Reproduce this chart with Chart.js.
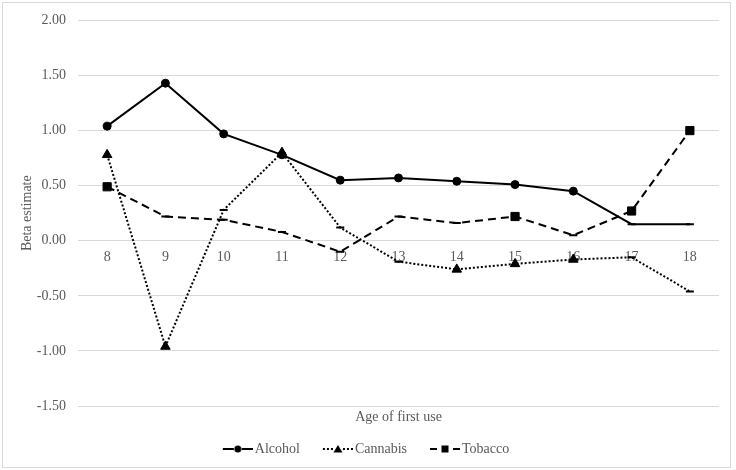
<!DOCTYPE html>
<html>
<head>
<meta charset="utf-8">
<script src="https://cdn.jsdelivr.net/npm/chart.js@4.4.1/dist/chart.umd.min.js"></script>
<style>
  body { margin: 0; background: #fff; }
  #wrap { position: relative; width: 736px; height: 470px; }
  #frame { position: absolute; left: 2px; top: 2px; width: 729px; height: 466px; box-sizing: border-box; border: 1px solid #d9d9d9; pointer-events: none; }
</style>
</head>
<body>
<div id="wrap">
  <canvas id="chart" width="736" height="470"></canvas>
  <div id="frame"></div>
</div>
<script>
const ages = ['8', '9', '10', '11', '12', '13', '14', '15', '16', '17', '18'];
const alcohol = [1.04, 1.43, 0.97, 0.78, 0.55, 0.57, 0.54, 0.51, 0.45, 0.15, 0.15];
const cannabis = [0.78, -0.96, 0.28, 0.80, 0.12, -0.19, -0.26, -0.21, -0.17, -0.15, -0.46];
const tobacco = [0.49, 0.22, 0.19, 0.08, -0.10, 0.22, 0.16, 0.22, 0.05, 0.27, 1.00];
// 1 = full marker, 0 = dash marker
const alcoholMarked = [1, 1, 1, 1, 1, 1, 1, 1, 1, 0, 0];
const cannabisMarked = [1, 1, 0, 1, 0, 0, 1, 1, 1, 0, 0];
const tobaccoMarked = [1, 0, 0, 0, 0, 0, 0, 1, 0, 1, 1];
const yTicks = [-1.5, -1.0, -0.5, 0, 0.5, 1.0, 1.5, 2.0];

const textColor = '#595959';
const gridColor = '#d9d9d9';
const fontFamily = "'Liberation Serif', 'Times New Roman', serif";

const markerSize = { circle: 4, triangle: 5.5, rect: 5.8, line: 4 };

function seriesStyle(marked, shape) {
  return {
    pointStyle: marked.map(m => m ? shape : 'line'),
    pointRadius: marked.map(m => m ? markerSize[shape] : markerSize.line),
    pointBorderWidth: marked.map(m => m ? 1 : 2)
  };
}

// little legend sample: line with marker in the middle
function legendSample(dash, shape) {
  const c = document.createElement('canvas');
  c.width = 48; c.height = 12;
  const g = c.getContext('2d');
  g.strokeStyle = '#000'; g.fillStyle = '#000'; g.lineWidth = 2;
  g.setLineDash(dash);
  g.beginPath(); g.moveTo(18, 6); g.lineTo(48, 6); g.stroke();
  g.setLineDash([]);
  g.clearRect(29, 0, 8, 12);
  g.beginPath();
  if (shape === 'circle') g.arc(33, 6, 3.5, 0, Math.PI * 2);
  if (shape === 'triangle') { g.moveTo(33, 2); g.lineTo(37.5, 9.5); g.lineTo(28.5, 9.5); g.closePath(); }
  if (shape === 'rect') g.rect(29.5, 2.5, 7, 7);
  g.fill();
  return c;
}

const datasets = [
  Object.assign({
    label: 'Alcohol', data: alcohol, order: 1,
    borderColor: '#000', backgroundColor: '#000', borderWidth: 2,
    pointBackgroundColor: '#000', pointBorderColor: '#000'
  }, seriesStyle(alcoholMarked, 'circle')),
  Object.assign({
    label: 'Cannabis', data: cannabis, order: 0,
    borderColor: '#000', backgroundColor: '#000', borderWidth: 2, borderDash: [2, 2],
    pointBackgroundColor: '#000', pointBorderColor: '#000'
  }, seriesStyle(cannabisMarked, 'triangle')),
  Object.assign({
    label: 'Tobacco', data: tobacco, order: 2,
    borderColor: '#000', backgroundColor: '#000', borderWidth: 2, borderDash: [8, 5],
    pointBackgroundColor: '#000', pointBorderColor: '#000'
  }, seriesStyle(tobaccoMarked, 'rect'))
];

const samples = [legendSample([], 'circle'), legendSample([2, 2], 'triangle'), legendSample([7, 16], 'rect')];

new Chart(document.getElementById('chart'), {
  type: 'line',
  data: { labels: ages, datasets: datasets },
  options: {
    responsive: false,
    animation: false,
    layout: { padding: { top: 16, right: 17, bottom: 4, left: 0 } },
    elements: { line: { tension: 0 } },
    scales: {
      x: {
        type: 'category',
        position: { y: 0 },
        offset: true,
        grid: { display: false, drawTicks: false },
        border: { display: false },
        ticks: { color: textColor, font: { family: fontFamily, size: 14 }, padding: 8 }
      },
      x2: {
        type: 'category',
        labels: ages,
        position: 'bottom',
        offset: true,
        grid: { display: false, drawTicks: false },
        border: { display: false },
        ticks: { display: false },
        title: { display: true, text: 'Age of first use', color: textColor, font: { family: fontFamily, size: 14 }, padding: { top: 0, bottom: 6 } },
        afterFit: s => { s.height = 26; }
      },
      y: {
        min: -1.5, max: 2,
        afterBuildTicks: s => { s.ticks = yTicks.map(v => ({ value: v })); },
        grid: { color: gridColor, lineWidth: 1, drawTicks: false },
        border: { display: false },
        ticks: { color: textColor, font: { family: fontFamily, size: 14 }, padding: 12, callback: v => Number(v).toFixed(2) },
        title: { display: true, text: 'Beta estimate', color: textColor, font: { family: fontFamily, size: 14 }, padding: { top: 19, bottom: 0 } },
        afterFit: s => { s.width = 78; }
      }
    },
    plugins: {
      tooltip: { enabled: false },
      legend: {
        position: 'bottom',
        labels: {
          color: textColor,
          font: { family: fontFamily, size: 14 },
          usePointStyle: true,
          pointStyleWidth: 38,
          padding: 10,
          generateLabels: chart => chart.data.datasets.map((d, i) => ({
            text: d.label, pointStyle: samples[i], fontColor: textColor,
            hidden: false, datasetIndex: i, lineWidth: 0, strokeStyle: 'transparent', fillStyle: 'transparent'
          }))
        }
      }
    }
  }
});
</script>
</body>
</html>
